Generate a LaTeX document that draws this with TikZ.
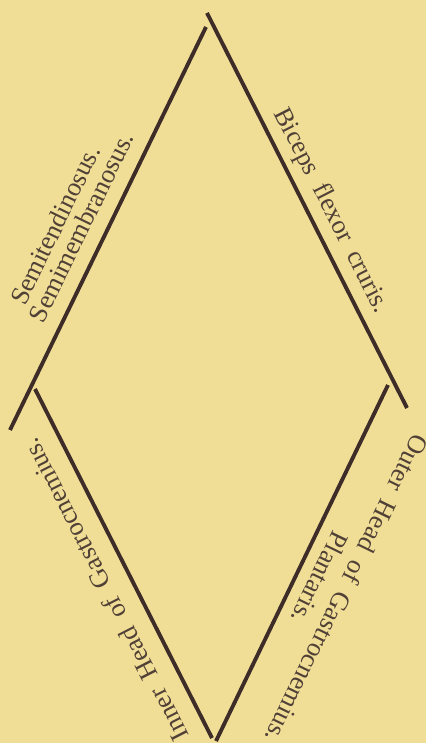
\documentclass[tikz,border=0pt]{standalone}
\usepackage{fontspec}
\setmainfont{Liberation Serif}
\newfontfamily\widefont[WordSpace=1.9]{Liberation Serif}

\definecolor{papier}{RGB}{240,222,150}
\definecolor{encre}{RGB}{62,44,40}
\definecolor{texte}{RGB}{80,64,54}

\begin{document}
\begin{tikzpicture}[
every node/.style={
text=texte,
inner sep=0pt,
font=\fontsize{7.5}{9}\selectfont
},
wide/.style={
font=\widefont\fontsize{7.5}{9}\selectfont
},
muscle/.style={
draw=encre,
line width=1.1pt
}
]

\useasboundingbox (0,0) rectangle (4.26,-7.43);
\fill[papier] (0,0) rectangle (4.26,-7.43);

\coordinate (S1) at (2.06,-0.27);
\coordinate (S2) at (0.10,-4.30);

\coordinate (B1) at (2.07,-0.13);
\coordinate (B2) at (4.07,-4.08);

\coordinate (I1) at (0.35,-3.89);
\coordinate (I2) at (2.12,-7.38);

\coordinate (O1) at (3.88,-3.85);
\coordinate (O2) at (2.16,-7.41);

\draw[muscle] (S1) -- (S2);
\draw[muscle] (B1) -- (B2);
\draw[muscle] (I1) -- (I2);
\draw[muscle] (O1) -- (O2);

\node[rotate=64] (St) at (0.55,-2.25)
{Semitendinosus.};

\node[rotate=64] (Sm) at (0.81,-2.27)
{Semimembranosus.};

\node[wide,rotate=-63] (Bi) at (3.31,-2.11)
{Biceps flexor cruris.};

\node[wide,rotate=117] (IH) at (1.05,-5.90)
{Inner Head of Gastrocnemius.};

\node[wide,rotate=-116] (OH) at (3.47,-5.89)
{Outer Head of Gastrocnemius.};

\node[rotate=-116] (Pl) at (3.20,-5.78)
{Plantaris.};

\end{tikzpicture}
\end{document}
